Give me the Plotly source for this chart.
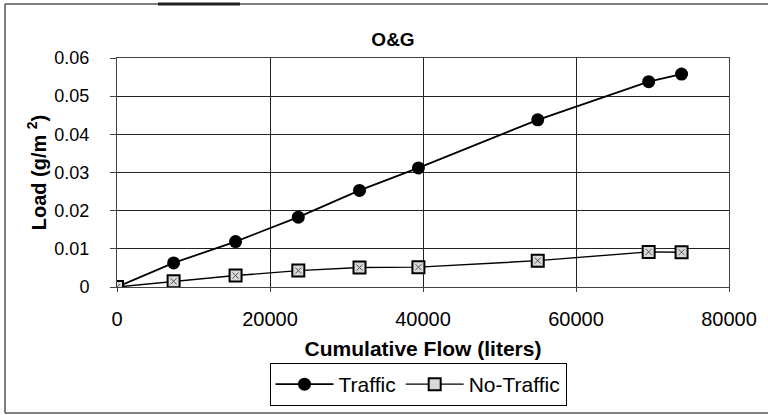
import plotly.graph_objects as go

flow = [0, 7400, 15500, 23700, 31700, 39400, 55000, 69500, 73800]
traffic = [0, 0.0063, 0.0119, 0.0183, 0.0253, 0.0312, 0.0438, 0.0538, 0.0558]
no_traffic = [0, 0.0015, 0.0030, 0.0043, 0.0051, 0.0052, 0.0069, 0.0092, 0.0091]

FONT = "Liberation Sans, Arial, sans-serif"

fig = go.Figure()
fig.add_trace(go.Scatter(
    x=flow, y=traffic, mode="lines+markers", name="Traffic",
    line=dict(color="black", width=1.8),
    marker=dict(symbol="circle", size=13, color="black"),
))
fig.add_trace(go.Scatter(
    x=flow, y=no_traffic, mode="lines+markers", name="No-Traffic",
    line=dict(color="black", width=1.4),
    marker=dict(symbol="square", size=12, color="#d8d8d8", line=dict(color="black", width=2)),
))
# dotted pattern inside the square markers
fig.add_trace(go.Scatter(
    x=flow, y=no_traffic, mode="markers", showlegend=False, hoverinfo="skip",
    marker=dict(symbol="x-thin", size=6, line=dict(color="#555", width=1)),
))

# plot area: 0..1 paper maps to x 117..729 px, y 287..58 px
pw, ph = 612.0, 229.0
frame = dict(type="line", xref="paper", yref="paper", line=dict(color="#555", width=1.5))
left = (5 - 117) / pw
top = (287 - 4) / ph
bottom = (287 - 413) / ph
right = (768 - 117) / pw
fig.update_layout(shapes=[
    dict(frame, x0=left, x1=left, y0=bottom, y1=top),
    dict(frame, x0=left, x1=right, y0=top, y1=top),
    dict(frame, x0=left, x1=right, y0=bottom, y1=bottom),
    dict(frame, x0=(158 - 117) / pw, x1=(240 - 117) / pw, y0=top, y1=top,
         line=dict(color="#222", width=3)),
])

fig.update_layout(
    width=768, height=415,
    margin=dict(l=117, r=39, t=58, b=128),
    paper_bgcolor="white", plot_bgcolor="white",
    font=dict(family=FONT, size=18, color="black"),
    title=dict(text="<b>O&G</b>", x=393 / 768, xanchor="center",
               y=1 - 39 / 415, yanchor="middle", font=dict(size=19)),
    xaxis=dict(
        range=[0, 80000], dtick=20000, tickformat="d",
        showgrid=True, gridcolor="#222", gridwidth=1,
        showline=True, linecolor="#444", linewidth=1, mirror=True,
        ticks="outside", ticklen=4, tickcolor="#444",
        tickfont=dict(size=20), ticklabelstandoff=10, automargin=False,
        zeroline=False,
        title=dict(text="<b>Cumulative Flow (liters)</b>", font=dict(size=21), standoff=12),
    ),
    yaxis=dict(
        range=[0, 0.06], dtick=0.01,
        showgrid=True, gridcolor="#222", gridwidth=1,
        showline=True, linecolor="#444", linewidth=1, mirror=True,
        ticks="outside", ticklen=6, tickcolor="#444",
        tickfont=dict(size=18), ticklabelstandoff=17, automargin=False,
        zeroline=False,
        title=dict(text="<b>Load (g/m <sup>2</sup>)</b>", font=dict(size=20), standoff=2),
    ),
    legend=dict(
        orientation="h", xref="container", x=418 / 768, xanchor="center",
        yref="container", y=1 - 363 / 415, yanchor="top",
        bordercolor="black", borderwidth=1, bgcolor="white",
        font=dict(size=21), itemwidth=58,
    ),
)

fig.write_html("out.html", config={"displayModeBar": False},
               post_script="document.body.style.margin='0';")
